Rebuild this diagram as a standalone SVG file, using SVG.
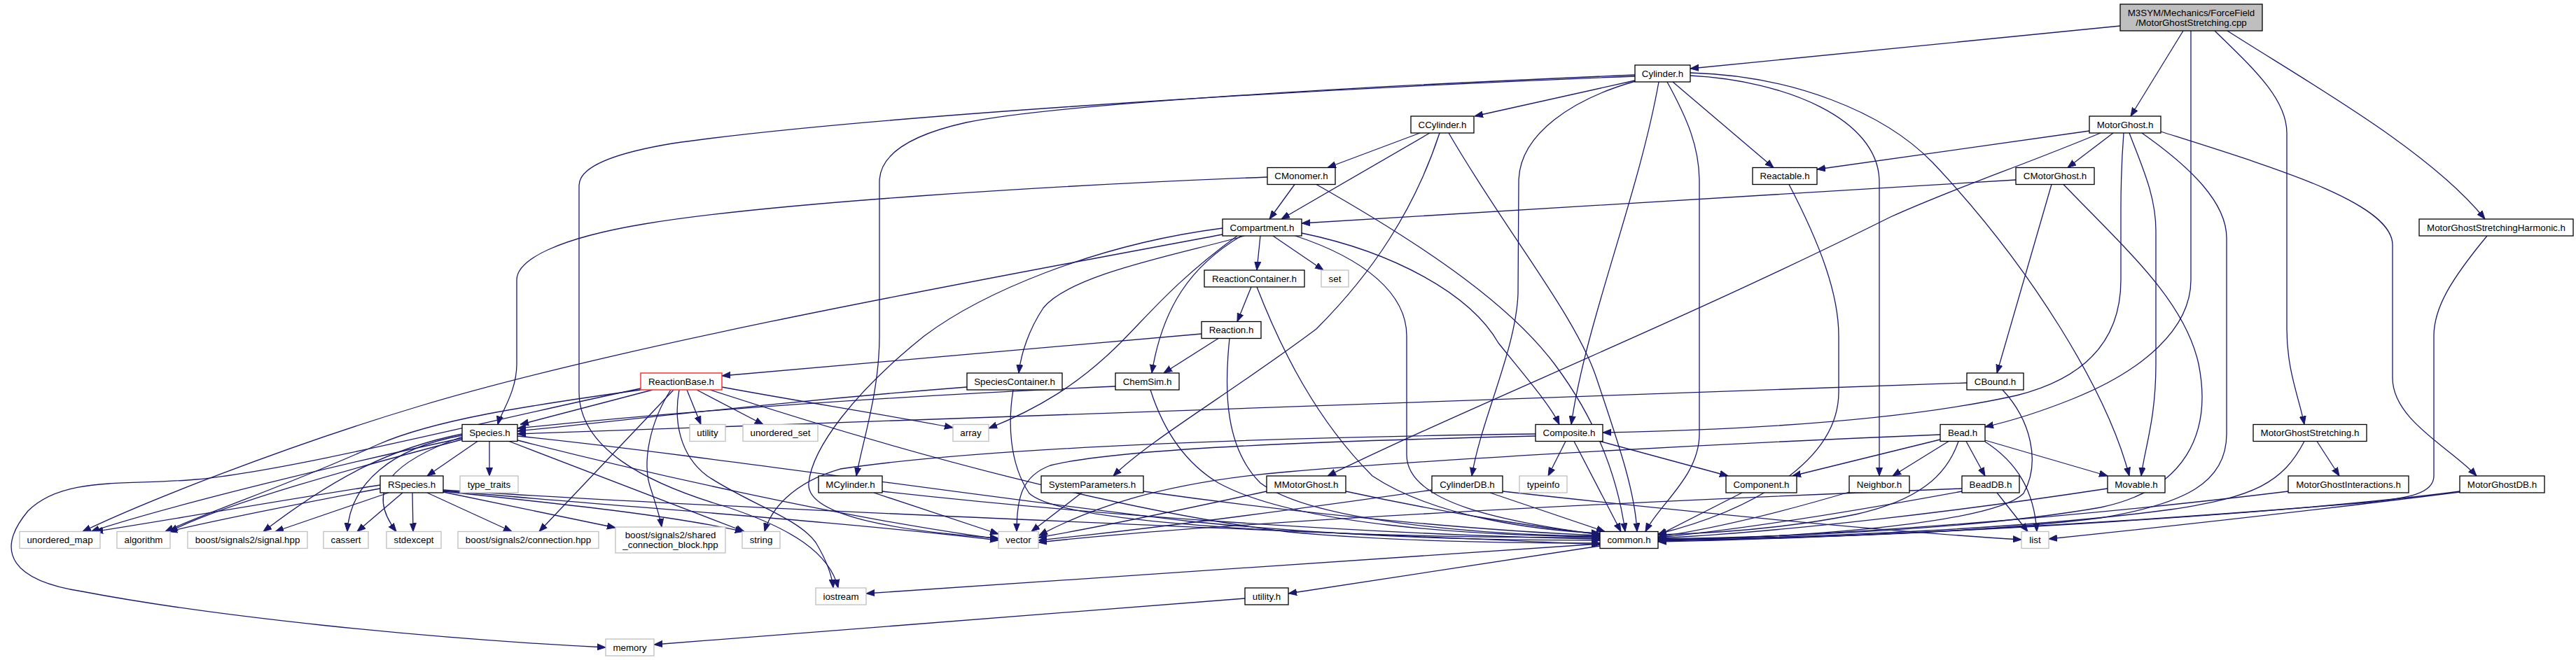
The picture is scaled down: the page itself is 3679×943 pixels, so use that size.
<svg xmlns="http://www.w3.org/2000/svg" width="3679" height="943" viewBox="0 0 3679 943">
<style>
.n rect{fill:#fff;stroke:#000;stroke-width:1.3}
.x rect{fill:#fff;stroke:#bfbfbf;stroke-width:1.3}
.r rect{fill:#fff;stroke:#ff3030;stroke-width:1.5}
.root rect{fill:#bfbfbf;stroke:#000;stroke-width:1.3}
text{font-family:"Liberation Sans",Arial,sans-serif;font-size:13.33px;text-anchor:middle;fill:#000}
#edges path{fill:none;stroke:#191970;stroke-width:1.3;marker-end:url(#a)}
</style>
<defs>
<marker id="a" markerWidth="12" markerHeight="10" refX="12" refY="5" orient="auto" markerUnits="userSpaceOnUse">
<path d="M0,0.5 L12,5 L0,9.5 z" fill="#191970" stroke="#191970" stroke-width="1"/>
</marker>
</defs>
<rect x="0" y="0" width="3679" height="943" fill="#fff"/>
<g id="edges">
<path d="M3028,37 L2414,98"/>
<path d="M3118,44 L3043,166"/>
<path d="M3129,44 L3129,400 C3129,470 3060,530 2960,570 C2910,590 2870,602 2835,610"/>
<path d="M3163,44 C3215,95 3266,140 3266,190 L3266,470 C3266,530 3284,570 3291,606.5"/>
<path d="M3181,44 C3300,120 3470,215 3549,313"/>
<path d="M2335,115 L2106,166"/>
<path d="M2335,107 C1900,125 1500,150 1380,175 C1290,195 1256,225 1256,260 L1256,480 C1256,560 1232,630 1223,680"/>
<path d="M2335,109 C1800,130 1200,170 960,205 C870,220 827,240 827,265 L827,560 C827,640 920,690 1040,725 C1130,755 1185,790 1197,840"/>
<path d="M2336,116 C2250,140 2169,190 2169,260 L2168,420 C2165,500 2115,600 2102,680"/>
<path d="M2369,117 C2340,280 2265,460 2244,606.5"/>
<path d="M2381,117 C2410,170 2427,210 2427,260 L2427,620 C2427,680 2370,720 2350,759.5"/>
<path d="M2389,117 L2533,239.5"/>
<path d="M2414,108 C2550,115 2684,170 2684,260 L2684,680"/>
<path d="M2414,104 C2560,108 2690,160 2760,232 C2900,380 3010,560 3041,680"/>
<path d="M2028,190 L1896,239.5"/>
<path d="M2042,190 L1830,313"/>
<path d="M2056,190 C2020,300 1960,390 1880,470 C1760,560 1640,630 1590,680"/>
<path d="M2069,190 C2150,330 2250,450 2280,540 C2310,630 2335,700 2338,759.5"/>
<path d="M2984,187 L2595,242"/>
<path d="M3000,190 C2880,240 2800,265 2700,310 C2400,460 2100,580 1896,680"/>
<path d="M3018,190 L2953,239.5"/>
<path d="M3033,190 C3030,230 3029,260 3029,300 L3029,400 C3029,500 2960,545 2880,565 C2700,605 2450,615 2289,618"/>
<path d="M3041,190 C3060,240 3079,280 3079,330 L3079,520 C3079,600 3063,640 3058,680"/>
<path d="M3059,190 C3130,240 3180,290 3180,340 L3180,620 C3180,690 3120,720 3000,740 C2800,765 2500,770 2368,772"/>
<path d="M3086,188 C3250,240 3417,290 3417,350 L3417,540 C3417,600 3500,640 3537,680"/>
<path d="M1810,253 C1500,265 1100,290 920,320 C800,340 738,370 738,400 L738,520 C738,560 715,590 711,606.5"/>
<path d="M1849,263.5 L1813,313"/>
<path d="M1880,263.5 C2050,360 2160,440 2220,520 C2280,600 2310,680 2321,759.5"/>
<path d="M2555,263.5 C2600,350 2626,420 2626,480 L2626,560 C2626,660 2500,730 2368,763"/>
<path d="M2879,257 C2500,280 2100,305 1859,319"/>
<path d="M2930,263.5 L2852,533"/>
<path d="M2947,263.5 C3040,360 3120,430 3140,520 C3160,620 3120,700 3000,725 C2800,760 2500,768 2368,770"/>
<path d="M1746,335 C1400,400 900,490 600,580 C400,640 200,720 118,759.5"/>
<path d="M1746,326 C1560,350 1400,420 1320,480 C1220,560 1160,640 1155,690 C1150,740 1300,760 1426,769"/>
<path d="M1777,337 C1700,360 1530,390 1490,440 C1470,470 1458,505 1455,533"/>
<path d="M1773,337 C1700,380 1660,440 1645,533"/>
<path d="M1767,337 C1680,400 1640,450 1600,490 C1540,550 1480,585 1412,612"/>
<path d="M1800,337 L1795,386"/>
<path d="M1818,337 L1890,386"/>
<path d="M1850,337 C1950,370 2009,420 2009,480 L2009,650 C2009,720 2150,745 2285,764"/>
<path d="M1859,333 C1990,360 2100,420 2140,490 C2180,540 2215,580 2227,606.5"/>
<path d="M1787,410 L1767,459.5"/>
<path d="M1795,410 C1830,500 1880,600 1960,680 C2050,740 2200,758 2285,762"/>
<path d="M1716,477 L1031,537"/>
<path d="M1740,483.5 L1662,533"/>
<path d="M1756,483.5 C1748,560 1750,640 1800,690 C1880,750 2150,765 2285,766"/>
<path d="M932,557 L743,606.5"/>
<path d="M915,555 C700,600 420,672 280,685 C180,694 90,680 40,730 C-10,790 20,830 117,845 C300,880 600,912 865,925"/>
<path d="M915,557 C750,580 620,600 540,635 C420,690 300,730 236,759.5"/>
<path d="M962,557 L770,759.5"/>
<path d="M958,557 C930,600 915,660 930,700 C938,725 943,740 945,753"/>
<path d="M970,557 C962,600 970,650 1010,680 C1070,720 1140,740 1165,775 C1180,800 1188,820 1190,840"/>
<path d="M981,557 L1001,606.5"/>
<path d="M995,557 L1090,606.5"/>
<path d="M1031,553 C1150,575 1250,590 1361,611"/>
<path d="M1014,557 C1300,650 1600,730 1840,760 C2000,775 2200,776 2285,776"/>
<path d="M682,630.5 L610,680"/>
<path d="M699,630.5 L699,680"/>
<path d="M660,626 C500,660 250,720 130,759.5"/>
<path d="M660,628 C500,670 320,720 242,759.5"/>
<path d="M660,620 C560,640 480,680 376,759.5"/>
<path d="M660,622 C560,640 500,690 496,759.5"/>
<path d="M660,624 C560,660 520,700 566,759.5"/>
<path d="M727,630.5 L1063,759.5"/>
<path d="M739,629 C900,670 1200,740 1426,770"/>
<path d="M739,623 C1000,650 1400,710 1700,745 C1950,770 2150,772 2285,772"/>
<path d="M543,693 C400,715 230,745 135,759.5"/>
<path d="M543,698 C450,715 300,745 241,759.5"/>
<path d="M555,704 L393,759.5"/>
<path d="M575,704 L510,759.5"/>
<path d="M589,704 L590,759.5"/>
<path d="M610,704 L731,759.5"/>
<path d="M633,703 L879,754"/>
<path d="M633,702 C800,720 950,735 1062,759.5"/>
<path d="M633,701 C900,725 1200,745 1426,772"/>
<path d="M633,700 C1000,725 1700,752 2285,778"/>
<path d="M1381,553 C1100,575 900,600 739,616"/>
<path d="M1593,552 C1300,565 1000,585 739,612"/>
<path d="M2809,547 C2200,565 1500,590 739,620"/>
<path d="M1447,557 C1440,600 1440,660 1470,705 C1520,750 1900,768 2285,768"/>
<path d="M1643,557 C1660,610 1690,660 1740,690 C1850,750 2100,765 2285,767"/>
<path d="M2860,557 C2900,600 2915,660 2890,705 C2850,745 2600,768 2368,771"/>
<path d="M2193,620 C1800,625 1400,640 1200,670 C1130,690 1100,730 1092,759.5"/>
<path d="M2193,623 C1900,630 1600,640 1500,665 C1460,680 1452,710 1452,759.5"/>
<path d="M2236,630.5 L2211,680"/>
<path d="M2248,630.5 L2315,759.5"/>
<path d="M2285,630.5 L2468,680"/>
<path d="M2771,621 C2400,636 2000,660 1840,674 C1650,690 1550,730 1484,765"/>
<path d="M2771,628 L2560,680"/>
<path d="M2783,630.5 L2703,680"/>
<path d="M2797,630.5 C2780,680 2740,715 2650,735 C2550,755 2450,762 2368,764"/>
<path d="M2808,630.5 L2835,680"/>
<path d="M2835,629 L3010,680"/>
<path d="M2835,631 C2880,660 2905,700 2909,759.5"/>
<path d="M3309,630.5 L3341,680"/>
<path d="M3291,630.5 C3260,690 3220,710 3100,728 C2900,755 2600,768 2368,771"/>
<path d="M1248,704 L1426,763"/>
<path d="M1260,702 C1600,740 2000,765 2285,770"/>
<path d="M1545,704 L1473,759.5"/>
<path d="M1633,702 C1900,740 2150,760 2285,765"/>
<path d="M1809,702 C1680,730 1560,755 1483,768"/>
<path d="M1922,702 C2050,730 2200,755 2285,763"/>
<path d="M2045,700 C1800,735 1600,760 1483,772"/>
<path d="M2128,704 L2292,759.5"/>
<path d="M2146,702 C2400,730 2700,760 2887,771"/>
<path d="M2488,704 L2368,765"/>
<path d="M2641,703 C2550,730 2450,755 2368,767"/>
<path d="M2802,702 C2650,730 2500,755 2368,768"/>
<path d="M2802,698 C2500,710 1800,740 1483,775"/>
<path d="M2852,704 L2896,759.5"/>
<path d="M3010,698 C2800,730 2550,760 2368,769"/>
<path d="M3268,702 C3000,735 2650,765 2368,772"/>
<path d="M3513,702 C3300,730 2800,765 2368,773"/>
<path d="M3513,703 C3300,730 3100,752 2926,770"/>
<path d="M3552,337 C3500,400 3476,440 3476,480 L3476,680 C3476,705 3440,712 3380,718 C3000,750 2600,770 2368,774"/>
<path d="M2285,777 L1237,848"/>
<path d="M2285,780 L1840,848"/>
<path d="M1778,855 L934,921"/>
</g>
<g id="n_root" class="root"><rect x="3028" y="6" width="203" height="38"/><text x="3129.5" y="23">M3SYM/Mechanics/ForceField</text><text x="3129.5" y="36.5">/MotorGhostStretching.cpp</text></g>
<g id="n_cylinder" class="n"><rect x="2335" y="93" width="79" height="24"/><text x="2374.5" y="109.5">Cylinder.h</text></g>
<g id="n_ccylinder" class="n"><rect x="2015" y="166" width="90" height="24"/><text x="2060" y="182.5">CCylinder.h</text></g>
<g id="n_motorghost" class="n"><rect x="2984" y="166" width="102" height="24"/><text x="3035" y="182.5">MotorGhost.h</text></g>
<g id="n_cmonomer" class="n"><rect x="1810" y="239.5" width="97" height="24"/><text x="1858.5" y="256">CMonomer.h</text></g>
<g id="n_reactable" class="n"><rect x="2503" y="239.5" width="92" height="24"/><text x="2549" y="256">Reactable.h</text></g>
<g id="n_cmotorghost" class="n"><rect x="2879" y="239.5" width="112" height="24"/><text x="2935" y="256">CMotorGhost.h</text></g>
<g id="n_compartment" class="n"><rect x="1746" y="313" width="113" height="24"/><text x="1802.5" y="329.5">Compartment.h</text></g>
<g id="n_mgsharmonic" class="n"><rect x="3455" y="313" width="220" height="24"/><text x="3565" y="329.5">MotorGhostStretchingHarmonic.h</text></g>
<g id="n_reactioncontainer" class="n"><rect x="1720" y="386" width="143" height="24"/><text x="1791.5" y="402.5">ReactionContainer.h</text></g>
<g id="n_set" class="x"><rect x="1887" y="386" width="39" height="24"/><text x="1906.5" y="402.5">set</text></g>
<g id="n_reaction" class="n"><rect x="1716" y="459.5" width="85" height="24"/><text x="1758.5" y="476">Reaction.h</text></g>
<g id="n_reactionbase" class="r"><rect x="915" y="533" width="116" height="24"/><text x="973" y="549.5">ReactionBase.h</text></g>
<g id="n_speciescontainer" class="n"><rect x="1381" y="533" width="136" height="24"/><text x="1449" y="549.5">SpeciesContainer.h</text></g>
<g id="n_chemsim" class="n"><rect x="1593" y="533" width="91" height="24"/><text x="1638.5" y="549.5">ChemSim.h</text></g>
<g id="n_cbound" class="n"><rect x="2809" y="533" width="81" height="24"/><text x="2849.5" y="549.5">CBound.h</text></g>
<g id="n_species" class="n"><rect x="660" y="606.5" width="79" height="24"/><text x="699.5" y="623">Species.h</text></g>
<g id="n_utility" class="x"><rect x="985" y="606.5" width="51" height="24"/><text x="1010.5" y="623">utility</text></g>
<g id="n_unordered_set" class="x"><rect x="1061" y="606.5" width="107" height="24"/><text x="1114.5" y="623">unordered_set</text></g>
<g id="n_array" class="x"><rect x="1361" y="606.5" width="51" height="24"/><text x="1386.5" y="623">array</text></g>
<g id="n_composite" class="n"><rect x="2193" y="606.5" width="96" height="24"/><text x="2241" y="623">Composite.h</text></g>
<g id="n_bead" class="n"><rect x="2771" y="606.5" width="64" height="24"/><text x="2803" y="623">Bead.h</text></g>
<g id="n_mgs" class="n"><rect x="3218" y="606.5" width="162" height="24"/><text x="3299" y="623">MotorGhostStretching.h</text></g>
<g id="n_rspecies" class="n"><rect x="543" y="680" width="90" height="24"/><text x="588" y="696.5">RSpecies.h</text></g>
<g id="n_type_traits" class="x"><rect x="657" y="680" width="83" height="24"/><text x="698.5" y="696.5">type_traits</text></g>
<g id="n_mcylinder" class="n"><rect x="1169" y="680" width="91" height="24"/><text x="1214.5" y="696.5">MCylinder.h</text></g>
<g id="n_systemparameters" class="n"><rect x="1487" y="680" width="146" height="24"/><text x="1560" y="696.5">SystemParameters.h</text></g>
<g id="n_mmotorghost" class="n"><rect x="1809" y="680" width="113" height="24"/><text x="1865.5" y="696.5">MMotorGhost.h</text></g>
<g id="n_cylinderdb" class="n"><rect x="2045" y="680" width="101" height="24"/><text x="2095.5" y="696.5">CylinderDB.h</text></g>
<g id="n_typeinfo" class="x"><rect x="2170" y="680" width="68" height="24"/><text x="2204" y="696.5">typeinfo</text></g>
<g id="n_component" class="n"><rect x="2465" y="680" width="101" height="24"/><text x="2515.5" y="696.5">Component.h</text></g>
<g id="n_neighbor" class="n"><rect x="2641" y="680" width="86" height="24"/><text x="2684" y="696.5">Neighbor.h</text></g>
<g id="n_beaddb" class="n"><rect x="2802" y="680" width="82" height="24"/><text x="2843" y="696.5">BeadDB.h</text></g>
<g id="n_movable" class="n"><rect x="3010" y="680" width="82" height="24"/><text x="3051" y="696.5">Movable.h</text></g>
<g id="n_mgi" class="n"><rect x="3268" y="680" width="172" height="24"/><text x="3354" y="696.5">MotorGhostInteractions.h</text></g>
<g id="n_mgdb" class="n"><rect x="3513" y="680" width="121" height="24"/><text x="3573.5" y="696.5">MotorGhostDB.h</text></g>
<g id="n_unordered_map" class="x"><rect x="28" y="759.5" width="115" height="24"/><text x="85.5" y="776">unordered_map</text></g>
<g id="n_algorithm" class="x"><rect x="167" y="759.5" width="76" height="24"/><text x="205" y="776">algorithm</text></g>
<g id="n_signal" class="x"><rect x="268" y="759.5" width="171" height="24"/><text x="353.5" y="776">boost/signals2/signal.hpp</text></g>
<g id="n_cassert" class="x"><rect x="462" y="759.5" width="64" height="24"/><text x="494" y="776">cassert</text></g>
<g id="n_stdexcept" class="x"><rect x="552" y="759.5" width="78" height="24"/><text x="591" y="776">stdexcept</text></g>
<g id="n_connection" class="x"><rect x="654" y="759.5" width="201" height="24"/><text x="754.5" y="776">boost/signals2/connection.hpp</text></g>
<g id="n_shared" class="x"><rect x="879" y="753" width="157" height="37"/><text x="957.5" y="769">boost/signals2/shared</text><text x="957.5" y="783">_connection_block.hpp</text></g>
<g id="n_string" class="x"><rect x="1060" y="759.5" width="54" height="24"/><text x="1087" y="776">string</text></g>
<g id="n_vector" class="x"><rect x="1426" y="759.5" width="57" height="24"/><text x="1454.5" y="776">vector</text></g>
<g id="n_common" class="n"><rect x="2285" y="759.5" width="83" height="24"/><text x="2326.5" y="776">common.h</text></g>
<g id="n_list" class="x"><rect x="2887" y="759.5" width="39" height="24"/><text x="2906.5" y="776">list</text></g>
<g id="n_iostream" class="x"><rect x="1165" y="840" width="72" height="24"/><text x="1201" y="856.5">iostream</text></g>
<g id="n_utilityh" class="n"><rect x="1778" y="840" width="62" height="24"/><text x="1809" y="856.5">utility.h</text></g>
<g id="n_memory" class="x"><rect x="865" y="913" width="69" height="24"/><text x="899.5" y="929.5">memory</text></g>
</svg>
